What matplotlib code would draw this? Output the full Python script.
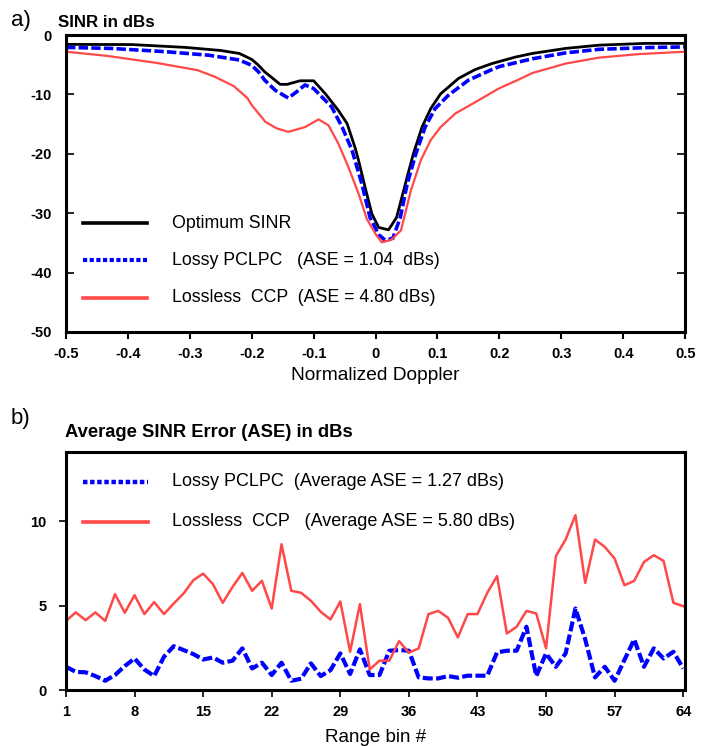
import matplotlib
matplotlib.use('Agg')
import matplotlib.pyplot as plt
from matplotlib.ticker import FixedLocator, FixedFormatter

plt.rcParams['font.family'] = ['Liberation Sans', 'DejaVu Sans']
plt.rcParams['axes.unicode_minus'] = False

# ---- panel a) : SINR vs normalized Doppler (values read off the picture)
opt_x = [-0.5, -0.394, -0.307, -0.25, -0.22, -0.2, -0.19, -0.179, -0.154, -0.143,
         -0.122, -0.1, -0.081, -0.06, -0.046, -0.033, -0.0275, -0.017, -0.006,
         0.005, 0.021, 0.034, 0.048, 0.061, 0.075, 0.089, 0.105, 0.134, 0.161,
         0.188, 0.226, 0.253, 0.307, 0.361, 0.436, 0.5]
opt_sinr = [-1.57, -1.6, -2.08, -2.6, -3.1, -4.1, -5.0, -6.2, -8.3, -8.3,
            -7.7, -7.7, -9.9, -12.7, -14.9, -19.0, -21.1, -25.6, -30.1,
            -32.4, -32.8, -30.7, -25.1, -20.0, -15.5, -12.4, -9.9, -7.3, -5.8,
            -4.8, -3.7, -3.1, -2.25, -1.7, -1.4, -1.4]

pclpc_x = [-0.5, -0.427, -0.339, -0.269, -0.22, -0.2, -0.189, -0.179, -0.162,
           -0.141, -0.128, -0.114, -0.1, -0.085, -0.071, -0.054, -0.038, -0.022,
           -0.009, 0.005, 0.016, 0.028, 0.04, 0.051, 0.065, 0.08, 0.096, 0.118,
           0.15, 0.188, 0.2, 0.253, 0.307, 0.361, 0.442, 0.5]
pclpc_sinr = [-2.08, -2.25, -2.8, -3.4, -4.2, -5.1, -6.2, -7.6, -9.3,
              -10.6, -9.6, -8.4, -9.0, -10.6, -12.1, -15.5, -19.4, -25.1,
              -30.7, -33.6, -34.6, -34.2, -30.7, -25.1, -20.0, -15.5, -12.4, -10.1,
              -7.6, -5.8, -5.3, -4.0, -3.0, -2.4, -2.1, -2.0]

ccp_x = [-0.5, -0.434, -0.353, -0.288, -0.26, -0.229, -0.207, -0.2, -0.189, -0.178,
         -0.16, -0.141, -0.114, -0.092, -0.076, -0.06, -0.044, -0.0275, -0.014, 0.0,
         0.01, 0.025, 0.041, 0.057, 0.073, 0.089, 0.105, 0.129, 0.161, 0.199,
         0.229, 0.253, 0.307, 0.361, 0.426, 0.5]
ccp_sinr = [-2.8, -3.5, -4.7, -5.9, -7.0, -8.6, -10.6, -11.8, -13.2, -14.6,
            -15.7, -16.3, -15.5, -14.2, -15.2, -18.3, -22.2, -26.7, -31.0, -33.5,
            -34.9, -34.5, -32.9, -26.2, -21.1, -17.7, -15.5, -13.2, -11.3, -9.0,
            -7.6, -6.4, -4.8, -3.8, -3.2, -2.8]

doppler_ticks = [-0.5, -0.4, -0.3, -0.2, -0.1, 0, 0.1, 0.2, 0.3, 0.4, 0.5]
doppler_labels = ['-0.5', '-0.4', '-0.3', '-0.2', '-0.1', '0',
                  '0.1', '0.2', '0.3', '0.4', '0.5']
sinr_ticks = [0, -10, -20, -30, -40, -50]

# ---- panel b) : ASE per range bin
range_bins = list(range(1, 65))
ase_pclpc = [1.38, 1.08, 1.05, 0.83, 0.55, 0.89, 1.42, 1.87, 1.22, 0.83,
             1.97, 2.60, 2.37, 2.13, 1.81, 1.93, 1.62, 1.74, 2.47, 1.28,
             1.62, 0.89, 1.62, 0.55, 0.67, 1.58, 0.83, 1.18, 2.17, 0.95,
             2.41, 0.89, 0.89, 2.33, 2.37, 2.33, 0.75, 0.69, 0.69, 0.83,
             0.73, 0.85, 0.85, 0.85, 2.23, 2.33, 2.33, 3.75, 0.83, 2.17,
             1.38, 2.17, 4.83, 3.0, 0.75, 1.38, 0.55, 1.78, 3.0, 1.38,
             2.47, 1.87, 2.27, 1.28]
ase_ccp = [4.10, 4.60, 4.14, 4.60, 4.10, 5.68, 4.58, 5.62, 4.50, 5.21,
           4.50, 5.13, 5.72, 6.51, 6.90, 6.27, 5.17, 6.11, 6.94, 5.88,
           6.47, 4.83, 8.64, 5.88, 5.76, 5.29, 4.64, 4.18, 5.25, 2.27,
           5.09, 1.22, 1.74, 1.74, 2.90, 2.21, 2.47, 4.50, 4.69, 4.28,
           3.12, 4.50, 4.50, 5.76, 6.75, 3.35, 3.75, 4.69, 4.54, 2.47,
           7.93, 8.92, 10.36, 6.35, 8.92, 8.48, 7.79, 6.21, 6.47, 7.59,
           7.99, 7.65, 5.17, 4.97]
bin_ticks = [1, 8, 15, 22, 29, 36, 43, 50, 57, 64]
ase_ticks = [0, 5, 10]

BLUE = '#0000ff'
RED = '#ff4848'

fig = plt.figure(figsize=(7.02, 7.46), dpi=100)
ax1 = fig.add_axes([0.094, 0.555, 0.882, 0.398])
ax2 = fig.add_axes([0.094, 0.075, 0.882, 0.319])

# panel a
ax1.plot(opt_x, opt_sinr, color='black', lw=2.0)
ax1.plot(pclpc_x, pclpc_sinr, color=BLUE, lw=2.6, dashes=(2.6, 0.9))
ax1.plot(ccp_x, ccp_sinr, color=RED, lw=1.6)
ax1.set_xlim(-0.5, 0.5)
ax1.set_ylim(-50, 0)
ax1.xaxis.set_major_locator(FixedLocator(doppler_ticks))
ax1.xaxis.set_major_formatter(FixedFormatter(doppler_labels))
ax1.set_yticks(sinr_ticks)
ax1.tick_params(axis='x', direction='out', length=5, width=1.5, pad=6,
                labelsize=10.5)
ax1.tick_params(axis='y', direction='in', length=6, width=1.2, left=True,
                right=True, labelsize=10.5, pad=10)
for lab in ax1.get_xticklabels() + ax1.get_yticklabels():
    lab.set_fontweight('bold')
for sp in ax1.spines.values():
    sp.set_linewidth(2.2)
ax1.set_xlabel('Normalized Doppler', fontsize=13.8, labelpad=4)

# legend of panel a, drawn by hand
leg_a = [('Optimum SINR', dict(color='black', lw=2.6)),
         ('Lossy PCLPC   (ASE = 1.04  dBs)', dict(color=BLUE, lw=3.0, dashes=(1.0, 0.6))),
         ('Lossless  CCP  (ASE = 4.80 dBs)', dict(color=RED, lw=2.6))]
for i, (txt, style) in enumerate(leg_a):
    y = 0.366 - i * 0.125
    ax1.plot([0.028, 0.131], [y, y], transform=ax1.transAxes, **style)
    ax1.text(0.172, y, txt, transform=ax1.transAxes, fontsize=12.8,
             va='center', ha='left')

# panel b
ax2.plot(range_bins, ase_pclpc, color=BLUE, lw=3.0, dashes=(2.4, 0.8))
ax2.plot(range_bins, ase_ccp, color=RED, lw=1.8)
ax2.set_xlim(1, 64.2)
ax2.set_ylim(0, 14.1)
ax2.set_xticks(bin_ticks)
ax2.set_yticks(ase_ticks)
ax2.tick_params(axis='both', direction='out', length=5, width=1.2,
                labelsize=10.5, pad=6)
ax2.tick_params(axis='y', pad=9)
for lab in ax2.get_xticklabels() + ax2.get_yticklabels():
    lab.set_fontweight('bold')
for sp in ax2.spines.values():
    sp.set_linewidth(2.2)
ax2.set_xlabel('Range bin #', fontsize=13.5, labelpad=7)

leg_b = [('Lossy PCLPC  (Average ASE = 1.27 dBs)', dict(color=BLUE, lw=3.2, dashes=(1.0, 0.6))),
         ('Lossless  CCP   (Average ASE = 5.80 dBs)', dict(color=RED, lw=2.6))]
for i, (txt, style) in enumerate(leg_b):
    y = 0.876 - i * 0.168
    ax2.plot([0.028, 0.133], [y, y], transform=ax2.transAxes, **style)
    ax2.text(0.172, y, txt, transform=ax2.transAxes, fontsize=13,
             va='center', ha='left')

# panel tags and titles
fig.text(0.015, 0.965, 'a)', fontsize=16, ha='left', va='baseline')
fig.text(58 / 702, 1 - 27 / 746, 'SINR in dBs', fontsize=12.2, fontweight='bold',
         ha='left', va='baseline')
fig.text(0.015, 0.432, 'b)', fontsize=16, ha='left', va='baseline')
fig.text(65 / 702, 1 - 437 / 746, 'Average SINR Error (ASE) in dBs', fontsize=13.2,
         fontweight='bold', ha='left', va='baseline')

fig.savefig('out.png', dpi=100)
